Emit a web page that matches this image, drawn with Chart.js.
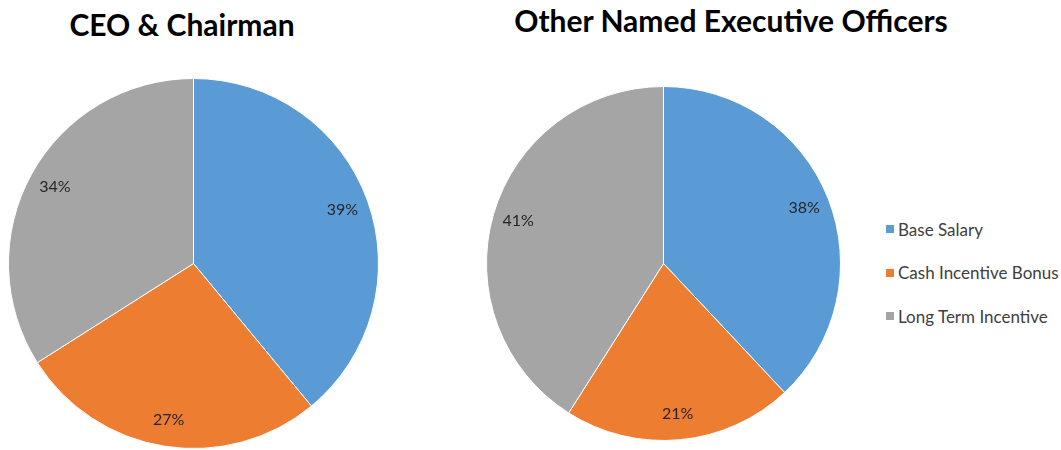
<!DOCTYPE html>
<html>
<head>
<meta charset="utf-8">
<script src="https://cdn.jsdelivr.net/npm/chart.js@4.4.1/dist/chart.umd.min.js"></script>
<style>
  html, body { margin: 0; padding: 0; background: #fff; }
  body { width: 1061px; height: 450px; position: relative; overflow: hidden; font-family: Lato, sans-serif; }
  .title { position: absolute; transform: translateX(-50%); white-space: nowrap; font-weight: bold; font-size: 30px; line-height: 30px; color: #000; }
  .box { position: absolute; }
  #legend { position: absolute; left: 886px; top: 222px; }
  .item { display: flex; align-items: center; height: 14px; margin-bottom: 29.5px; font-size: 17px; color: #404040; white-space: nowrap; }
  .item span.sw { display: inline-block; width: 8px; height: 8px; margin-right: 4px; }
</style>
</head>
<body>
<div class="title" style="left:182px; top:9px">CEO &amp; Chairman</div>
<div class="title" style="left:731px; top:5px">Other Named Executive Officers</div>
<div class="box" style="left:8px; top:78px; width:371px; height:371px"><canvas id="ceoChart"></canvas></div>
<div class="box" style="left:486px; top:86px; width:355px; height:355px"><canvas id="neoChart"></canvas></div>
<div id="legend"></div>
<script>
const labels = ['Base Salary', 'Cash Incentive Bonus', 'Long Term Incentive'];
const ceoValues = [39, 27, 34];
const neoValues = [38, 21, 41];
const colors = ['#5B9BD5', '#ED7D31', '#A5A5A5'];

// ===== PERCENT LABELS =====
const pctLabels = {
  id: 'pctLabels',
  afterDatasetsDraw(chart) {
    const ctx = chart.ctx;
    const data = chart.data.datasets[0].data;
    ctx.save();
    ctx.font = '16px Lato, sans-serif';
    ctx.fillStyle = '#262626';
    ctx.textAlign = 'center';
    ctx.textBaseline = 'middle';
    chart.getDatasetMeta(0).data.forEach((arc, i) => {
      const p = arc.getProps(['x', 'y', 'startAngle', 'endAngle', 'outerRadius'], true);
      const mid = (p.startAngle + p.endAngle) / 2;
      const r = p.outerRadius * 0.855;
      ctx.fillText(data[i] + '%', p.x + Math.cos(mid) * r, p.y + Math.sin(mid) * r);
    });
    ctx.restore();
  }
};

function makePie(id, values) {
  new Chart(document.getElementById(id), {
    type: 'pie',
    data: {
      labels: labels,
      datasets: [{ data: values, backgroundColor: colors, borderColor: '#fff', borderWidth: 1 }]
    },
    options: {
      responsive: true,
      maintainAspectRatio: false,
      animation: false,
      layout: { padding: 0 },
      plugins: { legend: { display: false }, tooltip: { enabled: false } }
    },
    plugins: [pctLabels]
  });
}

makePie('ceoChart', ceoValues);
makePie('neoChart', neoValues);

// ===== LEGEND =====
const legend = document.getElementById('legend');
labels.forEach((l, i) => {
  const row = document.createElement('div');
  row.className = 'item';
  row.innerHTML = `<span class="sw" style="background:${colors[i]}"></span>${l}`;
  legend.appendChild(row);
});
</script>
</body>
</html>
